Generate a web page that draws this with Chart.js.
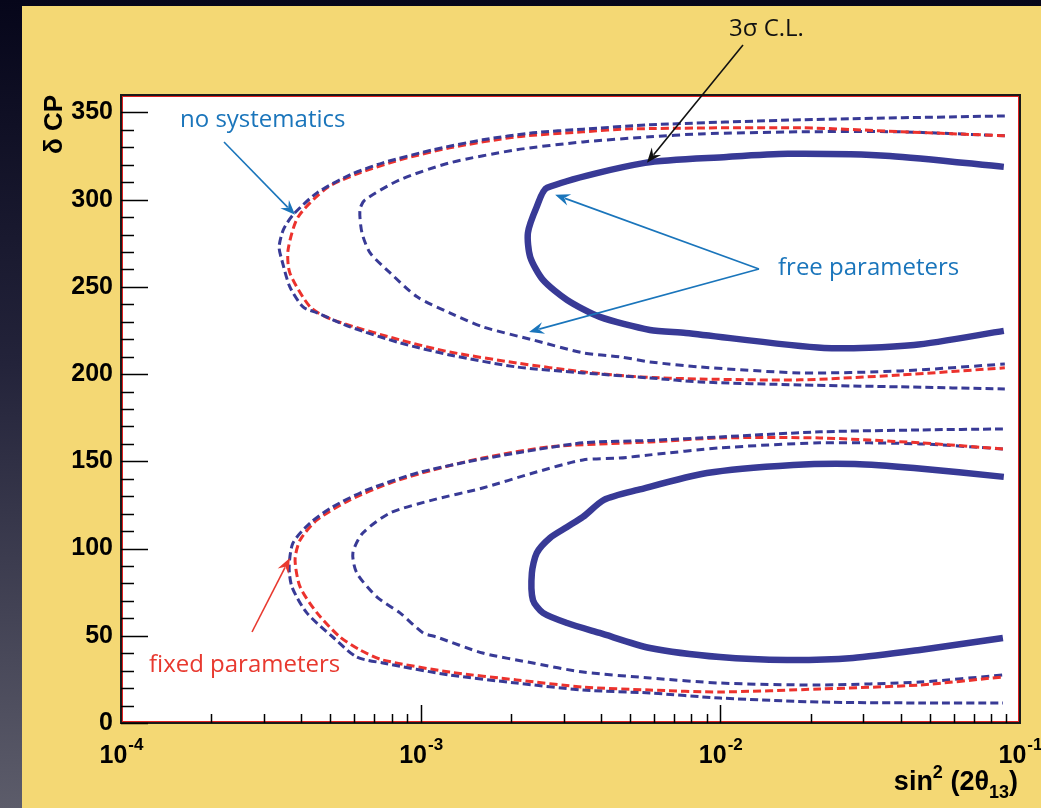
<!DOCTYPE html>
<html>
<head>
<meta charset="utf-8">
<script src="https://cdn.jsdelivr.net/npm/chart.js@4.4.1/dist/chart.umd.min.js"></script>
<style>
  html, body { margin: 0; padding: 0; background: #07071c; }
  canvas { display: block; }
</style>
</head>
<body>
<canvas id="cpChart" width="1041" height="808"></canvas>
<script>
// contour points: [sin^2(2theta13), deltaCP in degrees]
// upper half (deltaCP 180..360)
const upperSolid = [
    [8.83e-2, 318.8], [3.68e-2, 325.1], [1.68e-2, 326.3], [1.05e-2, 324.5], [5.60e-3, 321.1],
    [2.64e-3, 306.8], [2.44e-3, 295.9], [2.28e-3, 281.0], [2.32e-3, 267.2], [2.56e-3, 254.0],
    [3.08e-3, 242.5], [3.96e-3, 232.8], [5.82e-3, 225.3], [7.67e-3, 223.6], [2.22e-2, 215.0],
    [4.43e-2, 216.7], [8.83e-2, 224.8]
];
const upperFreeDash = [
    [8.9e-2, 336.6], [3.97e-2, 338.9], [1.85e-2, 338.9], [8.55e-3, 337.7], [5.82e-3, 336.0],
    [3.48e-3, 333.1], [2.09e-3, 328.6], [1.25e-3, 321.1], [8.53e-4, 311.4], [6.52e-4, 299.9],
    [6.27e-4, 294.2], [6.37e-4, 281.0], [6.78e-4, 269.5], [7.91e-4, 258.0], [9.73e-4, 244.3],
    [1.25e-3, 235.1], [1.61e-3, 227.1], [2.37e-3, 219.6], [3.48e-3, 212.2], [4.62e-3, 209.9],
    [5.82e-3, 207.0], [8.55e-3, 204.1], [1.85e-2, 200.7], [3.97e-2, 201.8], [8.9e-2, 205.8]
];
const upperNoSyst = [
    [8.9e-2, 348.0], [1.85e-2, 345.8], [5.82e-3, 342.9], [3.48e-3, 340.4], [2.37e-3, 338.3],
    [1.61e-3, 334.3], [1.10e-3, 328.6], [7.48e-4, 321.1], [5.81e-4, 314.2], [4.51e-4, 303.9],
    [3.75e-4, 291.3], [3.48e-4, 282.7], [3.37e-4, 272.9], [3.44e-4, 265.5], [3.66e-4, 250.0],
    [4.05e-4, 238.5], [4.51e-4, 235.1], [5.81e-4, 227.1], [8.53e-4, 217.9], [1.25e-3, 211.0],
    [2.09e-3, 204.1], [3.48e-3, 200.7], [5.82e-3, 197.8], [8.55e-3, 195.5], [1.85e-2, 193.8],
    [3.97e-2, 192.7], [8.9e-2, 191.5]
];
const upperFixed = [
    [8.9e-2, 336.6], [3.97e-2, 339.0], [1.85e-2, 341.2], [5.10e-3, 340.6], [3.48e-3, 338.9],
    [2.09e-3, 336.0], [1.25e-3, 329.7], [8.53e-4, 322.8], [6.27e-4, 315.4], [4.87e-4, 306.8],
    [3.90e-4, 290.1], [3.61e-4, 271.2], [3.66e-4, 258.0], [4.28e-4, 238.5], [5.09e-4, 231.1],
    [8.53e-4, 219.6], [1.25e-3, 212.7], [2.09e-3, 206.4], [3.48e-3, 201.3], [5.40e-3, 198.4],
    [8.55e-3, 197.2], [1.85e-2, 196.7], [3.97e-2, 199.5], [8.9e-2, 203.6]
];
// lower half (deltaCP 0..180)
const lowerSolid = [
    [8.83e-2, 141.1], [4.43e-2, 146.2], [2.81e-2, 148.5], [1.75e-2, 147.9], [9.02e-3, 143.3],
    [5.31e-3, 133.6], [4.09e-3, 127.9], [3.48e-3, 118.1], [3.08e-3, 112.4], [2.70e-3, 106.1],
    [2.44e-3, 97.5], [2.35e-3, 86.0], [2.37e-3, 70.5], [2.56e-3, 63.1], [3.08e-3, 57.3],
    [3.96e-3, 51.6], [5.82e-3, 43.0], [9.97e-3, 37.8], [1.67e-2, 36.1], [2.77e-2, 37.3],
    [4.63e-2, 41.9], [8.77e-2, 48.7]
];
const lowerFreeDash = [
    [8.77e-2, 157.1], [4.63e-2, 160.0], [2.15e-2, 160.6], [9.97e-3, 157.7], [5.82e-3, 153.7],
    [4.62e-3, 151.9], [3.48e-3, 150.8], [2.37e-3, 143.3], [1.61e-3, 134.7], [1.10e-3, 127.9],
    [7.91e-4, 120.4], [6.41e-4, 108.9], [5.94e-4, 97.5], [6.12e-4, 86.0], [7.15e-4, 72.2],
    [8.53e-4, 63.1], [1.02e-3, 51.6], [1.13e-3, 49.3], [1.61e-3, 40.1], [2.37e-3, 34.4],
    [3.48e-3, 29.2], [5.82e-3, 25.8], [9.97e-3, 22.9], [2.15e-2, 21.8], [4.63e-2, 23.5],
    [8.77e-2, 27.5]
];
const lowerNoSyst = [
    [8.77e-2, 168.6], [4.63e-2, 168.0], [2.15e-2, 166.9], [9.97e-3, 164.0], [5.82e-3, 162.0],
    [3.48e-3, 160.6], [2.09e-3, 154.8], [1.43e-3, 149.7], [9.73e-4, 143.3], [6.62e-4, 133.6],
    [5.09e-4, 123.9], [4.28e-4, 114.7], [3.75e-4, 103.2], [3.64e-4, 89.4], [3.72e-4, 78.0],
    [4.17e-4, 63.1], [5.09e-4, 49.3], [6.12e-4, 37.8], [7.48e-4, 34.4], [1.25e-3, 27.5],
    [2.09e-3, 22.9], [3.48e-3, 18.9], [5.82e-3, 17.2], [9.97e-3, 14.3], [2.15e-2, 12.0],
    [4.63e-2, 11.5], [8.77e-2, 11.5]
];
const lowerFixed = [
    [8.77e-2, 157.1], [4.63e-2, 160.6], [2.15e-2, 163.4], [9.97e-3, 163.4], [5.82e-3, 161.1],
    [2.70e-3, 158.3], [1.61e-3, 151.9], [1.10e-3, 145.1], [7.91e-4, 137.6], [5.81e-4, 127.9],
    [4.51e-4, 116.4], [3.96e-4, 104.9], [3.81e-4, 93.5], [3.96e-4, 78.0], [4.51e-4, 63.1],
    [5.38e-4, 49.3], [6.27e-4, 41.9], [7.48e-4, 36.1], [1.25e-3, 29.2], [2.09e-3, 24.7],
    [3.48e-3, 20.6], [5.82e-3, 18.9], [9.97e-3, 17.8], [2.15e-2, 19.5], [4.63e-2, 21.8],
    [8.77e-2, 26.4]
];

// axes
const xMin = 1e-4, xMax = 1e-1;
const xDecadeExps = [-4, -3, -2, -1];
const yMin = 0, yMax = 360;
const yMajorTicks = [0, 50, 100, 150, 200, 250, 300, 350];
const yMinorStep = 10;

// annotation arrows: tip in data coords
const annotations = [
    { text: '3σ C.L.', color: '#111111', tx: 729, ty: 36, from: [743, 45], tip: [5.69e-3, 321.1] },
    { text: 'no systematics', color: '#1a75bb', tx: 180, ty: 127, from: [224, 142], tip: [3.81e-4, 291.3] },
    { text: 'free parameters', color: '#1a75bb', tx: 778, ty: 275, from: [759, 269], tip: [2.81e-3, 302.8] },
    { text: null, color: '#1a75bb', from: [759, 269], tip: [2.30e-3, 224.2] },
    { text: 'fixed parameters', color: '#e8392f', tx: 149, ty: 672, from: [252, 632], tip: [3.66e-4, 94.6] }
];

const BLUE = '#383a96';
const RED = '#ec322d';
const toXY = arr => arr.map(p => ({ x: p[0], y: p[1] }));

function line(label, pts, color, width, dash) {
    return {
        label: label,
        data: toXY(pts),
        showLine: true,
        borderColor: color,
        backgroundColor: color,
        borderWidth: width,
        borderDash: dash,
        pointRadius: 0,
        tension: 0.25,
        fill: false
    };
}

function drawArrow(c, x1, y1, x2, y2, color) {
    const ang = Math.atan2(y2 - y1, x2 - x1);
    const hl = 15, hw = 6;
    const ca = Math.cos(ang), sa = Math.sin(ang);
    c.strokeStyle = color;
    c.fillStyle = color;
    c.lineWidth = 1.6;
    c.beginPath();
    c.moveTo(x1, y1);
    c.lineTo(x2 - ca * hl * 0.7, y2 - sa * hl * 0.7);
    c.stroke();
    c.beginPath();
    c.moveTo(x2, y2);
    c.lineTo(x2 - hl * ca + hw * sa, y2 - hl * sa - hw * ca);
    c.lineTo(x2 - hl * 0.65 * ca, y2 - hl * 0.65 * sa);
    c.lineTo(x2 - hl * ca - hw * sa, y2 - hl * sa + hw * ca);
    c.closePath();
    c.fill();
}

const backdrop = {
    id: 'backdrop',
    beforeDraw(chart) {
        const c = chart.ctx, W = chart.width, H = chart.height, a = chart.chartArea;
        c.save();
        const g = c.createLinearGradient(0, 0, 0, H);
        g.addColorStop(0, '#06061a');
        g.addColorStop(0.45, '#23233a');
        g.addColorStop(1, '#5c5c6a');
        c.fillStyle = g;
        c.fillRect(0, 0, W, H);
        c.fillStyle = '#f4d874';
        c.fillRect(22, 6, W - 22, H - 6);
        c.fillStyle = '#ffffff';
        c.fillRect(a.left, a.top, a.right - a.left, a.bottom - a.top);
        c.restore();
    }
};

const frameAndText = {
    id: 'frameAndText',
    afterDatasetsDraw(chart) {
        const c = chart.ctx, a = chart.chartArea;
        const xs = chart.scales.x, ys = chart.scales.y;
        c.save();
        // frame
        c.strokeStyle = '#1a1a1a';
        c.lineWidth = 2;
        c.strokeRect(a.left, a.top, a.right - a.left, a.bottom - a.top);
        c.strokeStyle = '#e02020';
        c.lineWidth = 1;
        c.strokeRect(a.left + 1.5, a.top + 1.5, a.right - a.left - 3, a.bottom - a.top - 3);

        // ticks
        c.strokeStyle = '#000';
        c.lineWidth = 1.5;
        c.beginPath();
        for (let v = yMin; v <= 350; v += yMinorStep) {
            const py = Math.round(ys.getPixelForValue(v)) + 0.5;
            const len = yMajorTicks.includes(v) ? 27 : 13;
            c.moveTo(a.left, py);
            c.lineTo(a.left + len, py);
        }
        for (let i = 0; i < xDecadeExps.length; i++) {
            const base = Math.pow(10, xDecadeExps[i]);
            const px0 = Math.round(xs.getPixelForValue(base)) + 0.5;
            if (i > 0 && i < xDecadeExps.length - 1) {
                c.moveTo(px0, a.bottom);
                c.lineTo(px0, a.bottom - 18);
            }
            if (i < xDecadeExps.length - 1) {
                for (let m = 2; m <= 9; m++) {
                    const px = Math.round(xs.getPixelForValue(m * base)) + 0.5;
                    c.moveTo(px, a.bottom);
                    c.lineTo(px, a.bottom - 9);
                }
            }
        }
        c.stroke();

        // x tick labels 10^n
        c.fillStyle = '#000';
        c.textBaseline = 'alphabetic';
        const big = 'bold 25px "Liberation Sans", Arial, sans-serif';
        const sup = 'bold 17px "Liberation Sans", Arial, sans-serif';
        xDecadeExps.forEach(e => {
            const px = xs.getPixelForValue(Math.pow(10, e));
            c.font = big;
            const w1 = c.measureText('10').width;
            c.font = sup;
            const s = '-' + Math.abs(e);
            const w2 = c.measureText(s).width;
            const x0 = px - (w1 + w2) / 2;
            c.font = big;
            c.fillText('10', x0, 763);
            c.font = sup;
            c.fillText(s, x0 + w1 + 1, 750);
        });

        // x title: sin^2 (2theta_13), right aligned
        const tBig = 'bold 27px "Liberation Sans", Arial, sans-serif';
        const tSmall = 'bold 18px "Liberation Sans", Arial, sans-serif';
        const parts = [
            { t: 'sin', f: tBig, dy: 0 },
            { t: '2', f: tSmall, dy: -12 },
            { t: ' (2θ', f: tBig, dy: 0 },
            { t: '13', f: tSmall, dy: 8 },
            { t: ')', f: tBig, dy: 0 }
        ];
        let total = 0;
        parts.forEach(p => { c.font = p.f; p.w = c.measureText(p.t).width; total += p.w; });
        let cx = 1018 - total;
        parts.forEach(p => { c.font = p.f; c.fillText(p.t, cx, 790 + p.dy); cx += p.w; });

        // y title
        c.save();
        c.translate(62, 95);
        c.rotate(-Math.PI / 2);
        c.font = 'bold 26px "Liberation Sans", Arial, sans-serif';
        c.textAlign = 'right';
        c.fillText('δ CP', 0, 0);
        c.restore();

        // annotations
        c.font = '24px "Open Sans", Lato, sans-serif';
        annotations.forEach(an => {
            const tx = xs.getPixelForValue(an.tip[0]);
            const ty = ys.getPixelForValue(an.tip[1]);
            drawArrow(c, an.from[0], an.from[1], tx, ty, an.color);
            if (an.text) {
                c.fillStyle = an.color;
                c.fillText(an.text, an.tx, an.ty);
            }
        });
        c.restore();
    }
};

const ctx = document.getElementById('cpChart').getContext('2d');
const cpChart = new Chart(ctx, {
    type: 'scatter',
    data: {
        datasets: [
            line('upper no systematics', upperNoSyst, BLUE, 3, [8, 4]),
            line('upper fixed parameters', upperFixed, RED, 3, [8, 4]),
            line('upper free parameters', upperFreeDash, BLUE, 3, [8, 5]),
            line('upper 3 sigma', upperSolid, BLUE, 6.5, []),
            line('lower no systematics', lowerNoSyst, BLUE, 3, [8, 4]),
            line('lower fixed parameters', lowerFixed, RED, 3, [8, 4]),
            line('lower free parameters', lowerFreeDash, BLUE, 3, [8, 5]),
            line('lower 3 sigma', lowerSolid, BLUE, 6.5, [])
        ]
    },
    options: {
        responsive: false,
        animation: false,
        layout: { padding: { top: 95, right: 21, left: 0, bottom: 0 } },
        plugins: {
            legend: { display: false },
            tooltip: { enabled: false }
        },
        scales: {
            x: {
                type: 'logarithmic',
                min: xMin,
                max: xMax,
                ticks: { display: false },
                grid: { display: false, drawTicks: false },
                border: { display: false },
                afterFit: s => { s.height = 85; }
            },
            y: {
                min: yMin,
                max: yMax,
                afterBuildTicks: s => { s.ticks = yMajorTicks.map(v => ({ value: v })); },
                ticks: {
                    padding: 8,
                    color: '#000',
                    font: { family: '"Liberation Sans", Arial, sans-serif', size: 25, weight: 'bold' }
                },
                grid: { display: false, drawTicks: false },
                border: { display: false },
                afterFit: s => { s.width = 121; }
            }
        }
    },
    plugins: [backdrop, frameAndText]
});
</script>
</body>
</html>
